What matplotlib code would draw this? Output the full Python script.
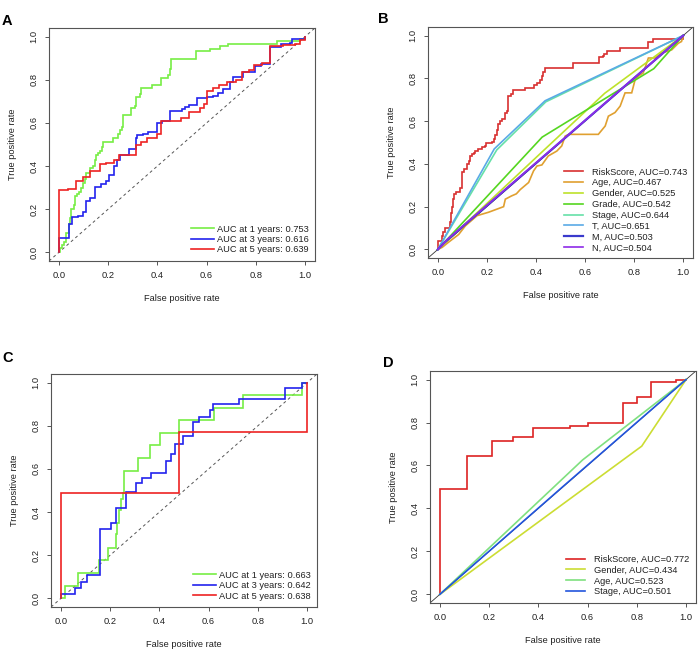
import matplotlib
matplotlib.use("Agg")
import matplotlib.pyplot as plt

plt.rcParams['font.family'] = ['Liberation Sans', 'DejaVu Sans']

# ---- Panel A: time-dependent ROC (points are corners of the step curve)
a_1y = [(0, 0), (0.005, 0.02), (0.011, 0.035), (0.02, 0.05), (0.03, 0.09), (0.04, 0.13),
        (0.045, 0.16), (0.05, 0.2), (0.06, 0.22), (0.065, 0.26), (0.075, 0.27), (0.08, 0.28),
        (0.09, 0.30), (0.1, 0.32), (0.105, 0.34), (0.11, 0.37), (0.125, 0.39), (0.14, 0.40),
        (0.145, 0.43), (0.15, 0.45), (0.16, 0.46), (0.166, 0.47), (0.175, 0.49), (0.18, 0.512),
        (0.22, 0.53), (0.24, 0.55), (0.25, 0.565), (0.255, 0.58), (0.262, 0.635), (0.295, 0.67),
        (0.31, 0.68), (0.315, 0.72), (0.33, 0.735), (0.335, 0.76), (0.38, 0.775), (0.415, 0.81),
        (0.444, 0.82), (0.45, 0.85), (0.457, 0.898), (0.558, 0.932), (0.613, 0.945),
        (0.655, 0.955), (0.685, 0.966), (0.884, 0.98), (0.978, 0.99), (1, 1)]
a_3y = [(0, 0), (0, 0.068), (0.04, 0.13), (0.055, 0.165), (0.078, 0.17), (0.10, 0.185),
        (0.112, 0.24), (0.126, 0.25), (0.146, 0.305), (0.173, 0.315), (0.19, 0.33), (0.204, 0.36),
        (0.223, 0.40), (0.237, 0.43), (0.25, 0.45), (0.285, 0.48), (0.313, 0.53), (0.318, 0.545),
        (0.34, 0.55), (0.363, 0.56), (0.40, 0.60), (0.42, 0.61), (0.45, 0.655), (0.50, 0.665),
        (0.513, 0.675), (0.528, 0.685), (0.56, 0.715), (0.603, 0.72), (0.626, 0.725),
        (0.647, 0.74), (0.667, 0.755), (0.695, 0.79), (0.707, 0.815), (0.747, 0.835),
        (0.795, 0.865), (0.82, 0.875), (0.857, 0.95), (0.904, 0.965), (0.937, 0.97),
        (0.948, 0.99), (1, 1)]
a_5y = [(0, 0), (0, 0.288), (0.038, 0.295), (0.069, 0.33), (0.099, 0.35), (0.128, 0.375),
        (0.166, 0.41), (0.193, 0.415), (0.223, 0.43), (0.245, 0.45), (0.313, 0.50), (0.332, 0.51),
        (0.359, 0.53), (0.40, 0.55), (0.416, 0.61), (0.498, 0.625), (0.528, 0.65), (0.575, 0.67),
        (0.59, 0.69), (0.601, 0.75), (0.626, 0.76), (0.65, 0.775), (0.683, 0.79), (0.718, 0.80),
        (0.745, 0.835), (0.773, 0.845), (0.792, 0.87), (0.823, 0.88), (0.857, 0.955),
        (0.91, 0.96), (0.96, 0.965), (0.98, 0.985), (1, 1)]
a_labels = ['AUC at 1 years: 0.753', 'AUC at 3 years: 0.616', 'AUC at 5 years: 0.639']

# ---- Panel B: multi-variable ROC
b_risk = [(0, 0), (0, 0.04), (0.015, 0.065), (0.02, 0.08), (0.03, 0.10), (0.05, 0.13),
          (0.052, 0.17), (0.058, 0.20), (0.062, 0.235), (0.066, 0.26), (0.075, 0.27),
          (0.09, 0.285), (0.1, 0.36), (0.105, 0.375), (0.12, 0.40), (0.125, 0.415),
          (0.133, 0.437), (0.14, 0.445), (0.146, 0.453), (0.153, 0.46), (0.165, 0.468),
          (0.18, 0.48), (0.194, 0.483), (0.198, 0.496), (0.22, 0.502), (0.23, 0.515),
          (0.235, 0.535), (0.24, 0.557), (0.245, 0.585), (0.255, 0.60), (0.26, 0.61),
          (0.275, 0.64), (0.282, 0.647), (0.286, 0.715), (0.3, 0.725), (0.305, 0.747),
          (0.354, 0.757), (0.39, 0.77), (0.404, 0.778), (0.417, 0.794), (0.424, 0.81),
          (0.43, 0.828), (0.438, 0.848), (0.549, 0.871), (0.657, 0.899), (0.675, 0.902),
          (0.679, 0.915), (0.688, 0.926), (0.743, 0.944), (0.858, 0.972), (0.878, 0.983), (1, 1)]
b_age = [(0, 0), (0.018, 0.01), (0.045, 0.035), (0.085, 0.07), (0.112, 0.11), (0.16, 0.158),
         (0.207, 0.174), (0.268, 0.2), (0.275, 0.235), (0.3, 0.25), (0.32, 0.26), (0.336, 0.28),
         (0.37, 0.313), (0.39, 0.367), (0.404, 0.39), (0.424, 0.395), (0.45, 0.437),
         (0.485, 0.46), (0.505, 0.484), (0.519, 0.53), (0.533, 0.538), (0.654, 0.538),
         (0.682, 0.577), (0.695, 0.623), (0.722, 0.64), (0.743, 0.67), (0.763, 0.732),
         (0.79, 0.732), (0.804, 0.794), (0.817, 0.81), (0.837, 0.825), (0.858, 0.895),
         (0.885, 0.895), (0.912, 0.918), (0.953, 0.933), (0.98, 0.964), (0.993, 0.972), (1, 1)]
b_gender = [(0, 0), (0.68, 0.73), (1, 1)]
b_grade = [(0, 0), (0.425, 0.525), (0.88, 0.845), (1, 1)]
b_stage = [(0, 0), (0.24, 0.465), (0.44, 0.69), (1, 1)]
b_t = [(0, 0), (0.23, 0.47), (0.437, 0.695), (1, 1)]
b_m = [(0, 0), (0.03, 0.036), (1, 1)]
b_n = [(0, 0), (0.04, 0.048), (1, 1)]
b_labels = ['RiskScore, AUC=0.743', 'Age, AUC=0.467', 'Gender, AUC=0.525', 'Grade, AUC=0.542',
            'Stage, AUC=0.644', 'T, AUC=0.651', 'M, AUC=0.503', 'N, AUC=0.504']

# ---- Panel C: validation time-dependent ROC
c_1y = [(0, 0), (0.016, 0.057), (0.07, 0.119), (0.156, 0.176), (0.192, 0.235), (0.223, 0.297),
        (0.226, 0.35), (0.237, 0.41), (0.246, 0.46), (0.253, 0.49), (0.256, 0.59),
        (0.314, 0.652), (0.363, 0.709), (0.402, 0.768), (0.479, 0.827), (0.622, 0.884),
        (0.74, 0.941), (0.981, 1.0), (1, 1)]
c_3y = [(0, 0), (0, 0.02), (0.057, 0.05), (0.081, 0.077), (0.107, 0.107), (0.157, 0.323),
        (0.202, 0.351), (0.222, 0.42), (0.264, 0.495), (0.307, 0.533), (0.33, 0.56),
        (0.366, 0.58), (0.428, 0.637), (0.448, 0.668), (0.463, 0.717), (0.497, 0.753),
        (0.537, 0.819), (0.56, 0.842), (0.604, 0.872), (0.618, 0.9), (0.723, 0.926),
        (0.909, 0.977), (0.98, 1.0), (1, 1)]
c_5y = [(0, 0), (0, 0.49), (0.48, 0.772), (1, 1)]
c_labels = ['AUC at 1 years: 0.663', 'AUC at 3 years: 0.642', 'AUC at 5 years: 0.638']

# ---- Panel D: validation multi-variable ROC
d_risk = [(0, 0), (0, 0.49), (0.11, 0.643), (0.21, 0.716), (0.296, 0.733), (0.38, 0.775),
          (0.529, 0.786), (0.6, 0.80), (0.744, 0.891), (0.80, 0.921), (0.857, 0.989),
          (0.959, 1.0), (1, 1)]
d_gender = [(0, 0), (0.82, 0.69), (1, 1)]
d_age = [(0, 0), (0.58, 0.626), (1, 1)]
d_stage = [(0, 0), (0.5, 0.502), (1, 1)]
d_labels = ['RiskScore, AUC=0.772', 'Gender, AUC=0.434', 'Age, AUC=0.523', 'Stage, AUC=0.501']

FS = 6.7
TXT = '#222222'
EDGE = '#555555'


def setup_axes(ax, diag_style):
    ax.set_xlim(-0.04, 1.04)
    ax.set_ylim(-0.04, 1.04)
    ticks = [0.0, 0.2, 0.4, 0.6, 0.8, 1.0]
    ax.set_xticks(ticks)
    ax.set_yticks(ticks)
    ax.set_xticklabels([f'{t:.1f}' for t in ticks])
    ax.set_yticklabels([f'{t:.1f}' for t in ticks], rotation=90, va='center')
    ax.tick_params(direction='out', length=3, width=0.7, color=EDGE,
                   labelsize=FS, labelcolor=TXT, pad=4.5)
    for s in ax.spines.values():
        s.set_color(EDGE)
        s.set_linewidth(0.8)
    ax.set_xlabel('False positive rate', fontsize=FS, color=TXT, labelpad=10)
    ax.set_ylabel('True positive rate', fontsize=FS, color=TXT, labelpad=9)
    if diag_style == 'dashed':
        ax.axline((0, 0), slope=1, color='#555555', lw=0.7, ls=(0, (3, 3)))
    else:
        ax.axline((0, 0), slope=1, color='#333333', lw=0.6)


def draw(ax, pts, color, step=True, lw=1.2, label=None):
    xs = [p[0] for p in pts]
    ys = [p[1] for p in pts]
    ax.plot(xs, ys, color=color, lw=lw, label=label,
            drawstyle='steps-post' if step else 'default', solid_joinstyle='miter')


fig = plt.figure(figsize=(6.98, 6.53), dpi=100)

axA = fig.add_axes([0.0702, 0.6003, 0.381, 0.3568])
axB = fig.add_axes([0.6132, 0.6049, 0.3797, 0.3538])
axC = fig.add_axes([0.0731, 0.0704, 0.381, 0.3568])
axD = fig.add_axes([0.616, 0.0766, 0.381, 0.3553])

# A
setup_axes(axA, 'dashed')
draw(axA, a_1y, '#77EE44', label=a_labels[0])
draw(axA, a_3y, '#2222EE', label=a_labels[1])
draw(axA, a_5y, '#EE2222', label=a_labels[2])
axA.legend(loc='lower right', frameon=False, fontsize=FS, handlelength=2.5,
           handletextpad=0.3, labelspacing=0.15, borderaxespad=0.3, labelcolor=TXT)

# B
setup_axes(axB, 'solid')
b_series = [(b_risk, '#D83030', True), (b_age, '#E0A030', False), (b_gender, '#BEE22A', False),
            (b_grade, '#55D620', False), (b_stage, '#66E0A8', False), (b_t, '#5AAAE6', False),
            (b_m, '#3A3ACC', False), (b_n, '#8E2BE8', False)]
for (pts, col, st), lab in zip(b_series, b_labels):
    draw(axB, pts, col, step=st, lw=1.6 if lab.startswith('M') else 1.2, label=lab)
axB.legend(loc='lower right', frameon=False, fontsize=FS, handlelength=2.0,
           handletextpad=1.0, labelspacing=0.2, borderaxespad=0.2, labelcolor=TXT)

# C
setup_axes(axC, 'dashed')
draw(axC, c_1y, '#77EE44', label=c_labels[0])
draw(axC, c_3y, '#2222EE', label=c_labels[1])
draw(axC, c_5y, '#EE2222', label=c_labels[2])
axC.legend(loc='lower right', frameon=False, fontsize=FS, handlelength=2.5,
           handletextpad=0.3, labelspacing=0.15, borderaxespad=0.3, labelcolor=TXT)

# D
setup_axes(axD, 'solid')
draw(axD, d_risk, '#DD2222', label=d_labels[0])
draw(axD, d_gender, '#CCDD33', step=False, label=d_labels[1])
draw(axD, d_age, '#7FE07F', step=False, label=d_labels[2])
draw(axD, d_stage, '#2255DD', step=False, label=d_labels[3])
axD.legend(loc='lower right', frameon=False, fontsize=FS, handlelength=2.0,
           handletextpad=1.0, labelspacing=0.2, borderaxespad=0.3, labelcolor=TXT)

for x, y, letter in [(0.003, 0.978, 'A'), (0.542, 0.982, 'B'), (0.004, 0.463, 'C'), (0.549, 0.455, 'D')]:
    fig.text(x, y, letter, fontsize=10.5, fontweight='bold', va='top', ha='left')

fig.savefig('out.png', dpi=100)
plt.close(fig)
